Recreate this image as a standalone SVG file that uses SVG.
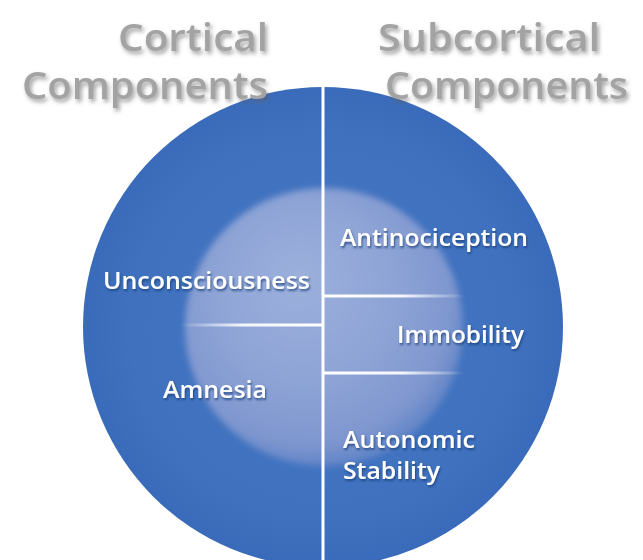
<svg xmlns="http://www.w3.org/2000/svg" width="643" height="560" viewBox="0 0 643 560">
<defs>
<radialGradient id="gOuter" cx="0.5" cy="0.5" r="0.5">
<stop offset="0" stop-color="#4677c4"/>
<stop offset="0.8" stop-color="#3f71be"/>
<stop offset="1" stop-color="#3a6bba"/>
</radialGradient>
<radialGradient id="gInner" cx="0.45" cy="0.42" r="0.58" fx="0.4" fy="0.32">
<stop offset="0" stop-color="#9cb0dc"/>
<stop offset="0.55" stop-color="#8ea4d6"/>
<stop offset="0.88" stop-color="#7f97cf"/>
<stop offset="1" stop-color="#6285c7"/>
</radialGradient>
<linearGradient id="gLineL" x1="180" y1="0" x2="321" y2="0" gradientUnits="userSpaceOnUse">
<stop offset="0" stop-color="#ffffff" stop-opacity="0"/>
<stop offset="0.45" stop-color="#ffffff" stop-opacity="0.9"/>
<stop offset="1" stop-color="#ffffff" stop-opacity="1"/>
</linearGradient>
<linearGradient id="gLineR" x1="325" y1="0" x2="465" y2="0" gradientUnits="userSpaceOnUse">
<stop offset="0" stop-color="#ffffff" stop-opacity="1"/>
<stop offset="0.55" stop-color="#ffffff" stop-opacity="0.9"/>
<stop offset="1" stop-color="#ffffff" stop-opacity="0"/>
</linearGradient>
<filter id="soft" x="-20%" y="-20%" width="140%" height="140%">
<feGaussianBlur stdDeviation="3"/>
</filter>
<filter id="shLabel" x="-10%" y="-30%" width="120%" height="160%">
<feDropShadow dx="1" dy="2" stdDeviation="1.2" flood-color="#1d3f7a" flood-opacity="0.8"/>
</filter>
<filter id="shHead" x="-10%" y="-30%" width="120%" height="160%">
<feDropShadow dx="2" dy="3" stdDeviation="2" flood-color="#606060" flood-opacity="0.6"/>
</filter>
</defs>
<style>
.head{font-family:"Open Sans","Liberation Sans",sans-serif;font-size:38px;font-weight:600;fill:#a3a3a3;filter:url(#shHead);}
.lbl{font-family:"Open Sans","Liberation Sans",sans-serif;font-size:23px;font-weight:600;fill:#ffffff;filter:url(#shLabel);}
.div{stroke-width:3;fill:none;}
</style>
<rect width="643" height="560" fill="#ffffff"/>
<g id="outer-circle">
<circle cx="323" cy="327" r="240" fill="url(#gOuter)"/>
</g>
<g id="inner-disc">
<circle cx="324" cy="327" r="139" fill="url(#gInner)" filter="url(#soft)"/>
</g>
<g id="connectors">
<line class="div" x1="323" y1="86" x2="323" y2="560" stroke="#ffffff"/>
<line class="div" x1="180" y1="325" x2="322" y2="325" stroke="url(#gLineL)"/>
<line class="div" x1="324" y1="296" x2="465" y2="296" stroke="url(#gLineR)"/>
<line class="div" x1="324" y1="373" x2="465" y2="373" stroke="url(#gLineR)"/>
</g>
<g id="heading-cortical">
<text class="head" x="118" y="51" textLength="150" lengthAdjust="spacingAndGlyphs">Cortical</text>
<text class="head" x="22" y="99" textLength="246" lengthAdjust="spacingAndGlyphs">Components</text>
</g>
<g id="heading-subcortical">
<text class="head" x="378" y="51" textLength="222" lengthAdjust="spacingAndGlyphs">Subcortical</text>
<text class="head" x="385" y="99" textLength="243" lengthAdjust="spacingAndGlyphs">Components</text>
</g>
<g id="node-unconsciousness"><text class="lbl" x="103" y="289" textLength="207" lengthAdjust="spacingAndGlyphs">Unconsciousness</text></g>
<g id="node-amnesia"><text class="lbl" x="163" y="398" textLength="104" lengthAdjust="spacingAndGlyphs">Amnesia</text></g>
<g id="node-antinociception"><text class="lbl" x="340" y="246" textLength="188" lengthAdjust="spacingAndGlyphs">Antinociception</text></g>
<g id="node-immobility"><text class="lbl" x="397" y="343" textLength="127" lengthAdjust="spacingAndGlyphs">Immobility</text></g>
<g id="node-autonomic-stability">
<text class="lbl" x="343" y="448" textLength="132" lengthAdjust="spacingAndGlyphs">Autonomic</text>
<text class="lbl" x="343" y="479" textLength="97" lengthAdjust="spacingAndGlyphs">Stability</text>
</g>
</svg>
